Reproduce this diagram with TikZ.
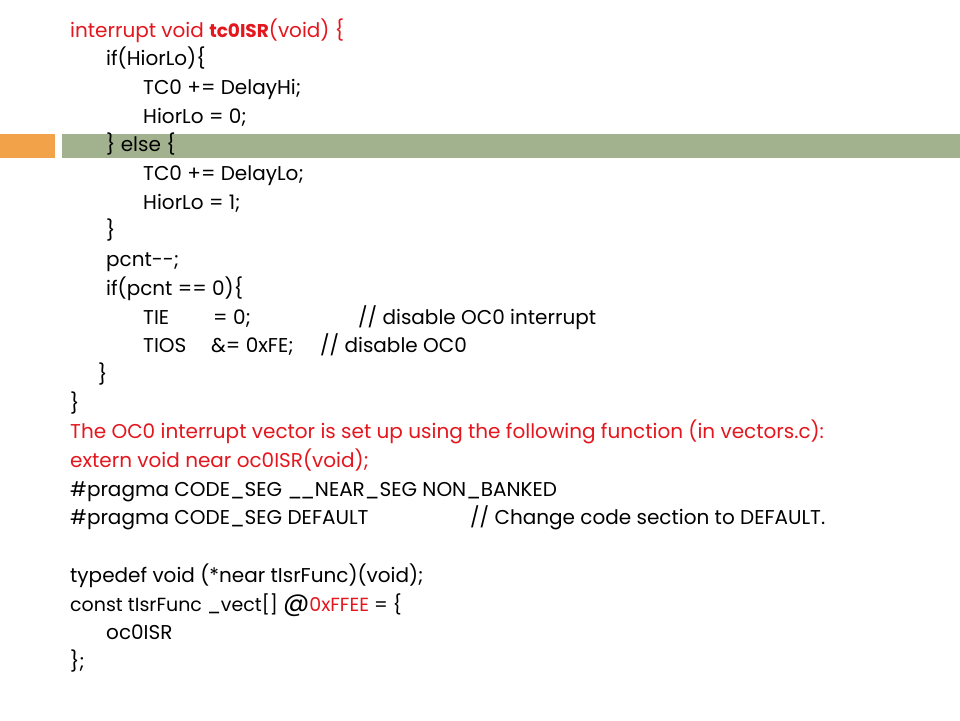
\documentclass[tikz,border=0pt]{standalone}
\usepackage{fontspec}
\setmainfont{Poppins}
\definecolor{codered}{RGB}{228,22,30}
\definecolor{barorange}{RGB}{242,163,74}
\definecolor{bargreen}{RGB}{162,178,143}
\begin{document}
\begin{tikzpicture}[x=1pt,y=-1pt,
  code/.style={anchor=base west,inner sep=0pt,font=\fontsize{20}{22}\selectfont,text=black},
  redcode/.style={code,text=codered}]
\useasboundingbox (0,0) rectangle (960,720);
\fill[white] (0,0) rectangle (960,720);
\fill[barorange] (0,134) rectangle (55,158);
\fill[bargreen] (62,134) rectangle (960,158);
\def\b#1{\fpeval{37+28.7*(#1-1)}}
\node[redcode] (l1) at (70,\b{1}) {interrupt void {\fontsize{18.5}{22}\selectfont\textbf{tc0ISR}}(void) \{};
\node[code] (l2) at (106,\b{2}) {if(HiorLo)\{};
\node[code] (l3) at (143,\b{3}) {TC0 += DelayHi;};
\node[code] (l4) at (143,\b{4}) {HiorLo = 0;};
\node[code] (l5) at (106,\b{5}) {\} else \{};
\node[code] (l6) at (143,\b{6}) {TC0 += DelayLo;};
\node[code] (l7) at (143,\b{7}) {HiorLo = 1;};
\node[code] (l8) at (106,\b{8}) {\}};
\node[code] (l9) at (106,\b{9}) {pcnt-{}-;};
\node[code] (l10) at (106,\b{10}) {if(pcnt == 0)\{};
\node[code] (l11a) at (143,\b{11}) {TIE};
\node[code] (l11b) at (213,\b{11}) {= 0;};
\node[code] (l11c) at (358,\b{11}) {// disable OC0 interrupt};
\node[code] (l12a) at (143,\b{12}) {TIOS};
\node[code] (l12b) at (211,\b{12}) {\&= 0xFE;};
\node[code] (l12c) at (320,\b{12}) {// disable OC0};
\node[code] (l13) at (98,\b{13}) {\}};
\node[code] (l14) at (70,\b{14}) {\}};
\node[redcode] (l15) at (70,\b{15}) {The OC0 interrupt vector is set up using the following function (in vectors.c):};
\node[redcode] (l16) at (70,\b{16}) {extern void near oc0ISR(void);};
\node[code] (l17) at (70,\b{17}) {\#pragma CODE\_SEG \_\kern-0.1em\_NEAR\_SEG NON\_BANKED};
\node[code] (l18a) at (70,\b{18}) {\#pragma CODE\_SEG DEFAULT};
\node[code] (l18b) at (470,\b{18}) {// Change code section to DEFAULT.};
\node[code] (l20) at (70,\b{20}) {typedef void (*near tIsrFunc)(void);};
\node[code] (l21) at (70,\b{21}) {\fontsize{19}{22}\selectfont const tIsrFunc \_vect[] {\fontsize{26}{26}\selectfont @}\textcolor{codered}{0xFFEE} = \{};
\node[code] (l22) at (106,\b{22}) {oc0ISR};
\node[code] (l23) at (70,\b{23}) {\};};
\end{tikzpicture}
\end{document}
